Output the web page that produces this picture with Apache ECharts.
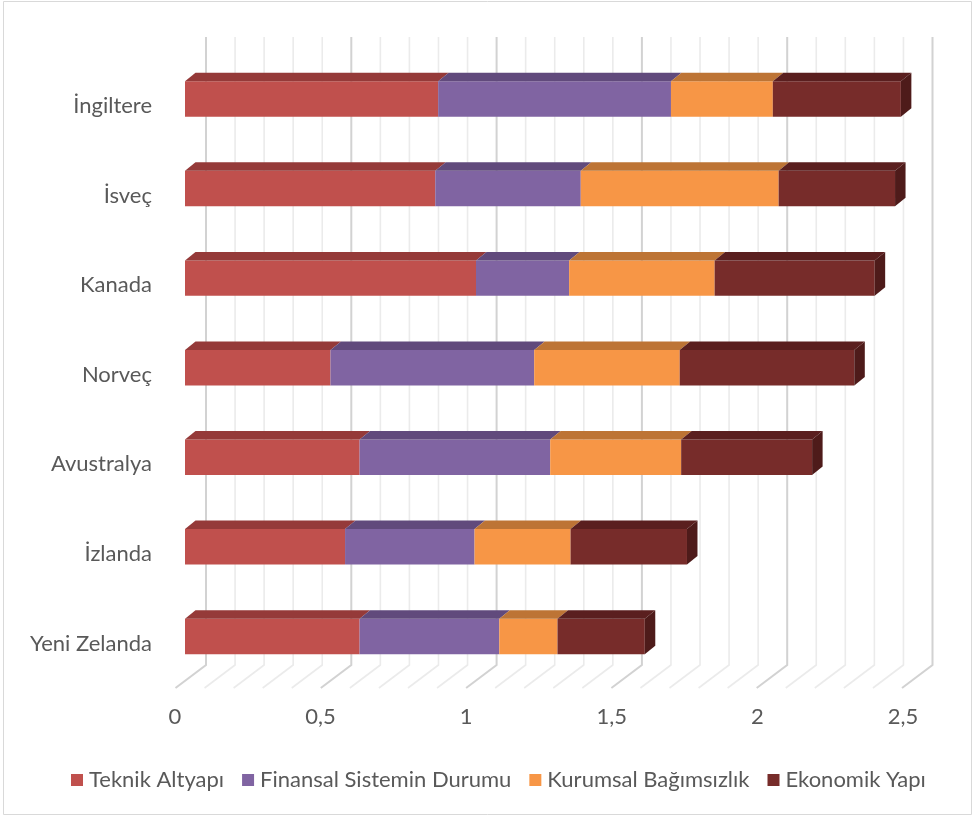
<!DOCTYPE html>
<html>
<head>
<meta charset="utf-8">
<script src="https://cdn.jsdelivr.net/npm/echarts@6/dist/echarts.min.js"></script>
<style>html,body{margin:0;padding:0;background:#fff}#c{width:974px;height:818px}</style>
</head>
<body>
<div id="c"></div>
<script>
// ---- data ----
const categories = ['Yeni Zelanda', 'İzlanda', 'Avustralya', 'Norveç', 'Kanada', 'İsveç', 'İngiltere'];
const seriesNames = ['Teknik Altyapı', 'Finansal Sistemin Durumu', 'Kurumsal Bağımsızlık', 'Ekonomik Yapı'];
const teknikAltyapi     = [0.60, 0.55, 0.60, 0.50, 1.00, 0.86, 0.87];
const finansalSistem    = [0.48, 0.445, 0.655, 0.70, 0.32, 0.50, 0.80];
const kurumsalBagimsiz  = [0.20, 0.33, 0.45, 0.50, 0.50, 0.68, 0.35];
const ekonomikYapi      = [0.30, 0.40, 0.45, 0.60, 0.55, 0.40, 0.44];
const gridTicks = [0,0.1,0.2,0.3,0.4,0.5,0.6,0.7,0.8,0.9,1,1.1,1.2,1.3,1.4,1.5,1.6,1.7,1.8,1.9,2,2.1,2.2,2.3,2.4,2.5];
const axisLabels = [0, 0.5, 1, 1.5, 2, 2.5];

// ---- styles ----
const frontColors = ['#C0504D', '#8064A2', '#F79646', '#772C2A'];
const topColors   = ['#953A39', '#614A7C', '#BD7435', '#5A1F1F'];
const sideColor   = '#4E1B1A';
const DX = 10.5, DY = 8.5;
const FONT = 'Lato';
const FS = 22;

const allSeries = [teknikAltyapi, finansalSistem, kurumsalBagimsiz, ekonomikYapi];

const chart = echarts.init(document.getElementById('c'), null, {renderer: 'canvas'});

// wall + floor grid lines
const wallSeries = {
  type: 'custom',
  xAxisIndex: 0, yAxisIndex: 0,
  z: 1, silent: true,
  data: gridTicks.map(v => [v]),
  encode: {x: 0},
  renderItem: function (params, api) {
    const v = api.value(0);
    const top = api.coord([v, 1]);
    const bot = api.coord([v, 0]);
    const major = params.dataIndex % 5 === 0;
    return {
      type: 'polyline',
      shape: {points: [[top[0], top[1]], [bot[0], bot[1]], [bot[0] - 30.5, bot[1] + 23]]},
      style: {fill: null, stroke: major ? '#d2d2d2' : '#ebebeb', lineWidth: major ? 2 : 1.6}
    };
  }
};

const barSeries = allSeries.map((vals, s) => {
  const data = vals.map((v, i) => {
    let start = 0;
    for (let k = 0; k < s; k++) start += allSeries[k][i];
    return [start, start + v, i];
  });
  const isLast = s === allSeries.length - 1;
  return {
    type: 'custom',
    name: seriesNames[s],
    xAxisIndex: 1, yAxisIndex: 1,
    z: 2 + s,
    itemStyle: {color: frontColors[s]},
    encode: {x: [0, 1], y: 2},
    data: data,
    renderItem: function (params, api) {
      const a = api.coord([api.value(0), api.value(2)]);
      const b = api.coord([api.value(1), api.value(2)]);
      const h = api.size([0, 1])[1] * 0.396;
      const y0 = a[1] - h / 2, y1 = a[1] + h / 2;
      const children = [
        {type: 'rect', shape: {x: a[0], y: y0, width: b[0] - a[0], height: h},
         style: {fill: frontColors[s]}},
        {type: 'polygon', shape: {points: [[a[0], y0], [b[0], y0], [b[0] + DX, y0 - DY], [a[0] + DX, y0 - DY]]},
         style: {fill: topColors[s]}}
      ];
      if (isLast) {
        children.push({type: 'polygon', shape: {points: [[b[0], y0], [b[0] + DX, y0 - DY], [b[0] + DX, y1 - DY], [b[0], y1]]},
          style: {fill: sideColor}});
      }
      return {type: 'group', children: children};
    }
  };
});

const option = {
  backgroundColor: '#fff',
  animation: false,
  textStyle: {fontFamily: FONT},
  graphic: [{
    type: 'rect', silent: true, z: 0,
    shape: {x: 3.5, y: 1.5, width: 968, height: 813},
    style: {fill: null, stroke: '#d9d9d9', lineWidth: 1}
  }],
  grid: [
    {left: 206, right: 41.5, top: 37, height: 628},
    {left: 185, right: 61.5, top: 54.2, height: 627},
    {left: 175, right: 71, top: 61.2, height: 627}
  ],
  xAxis: [
    {gridIndex: 0, type: 'value', min: 0, max: 2.5, show: false},
    {gridIndex: 1, type: 'value', min: 0, max: 2.5, show: false},
    {gridIndex: 2, type: 'value', min: 0, max: 2.5, interval: 0.5,
     axisLine: {show: false}, axisTick: {show: false}, splitLine: {show: false},
     axisLabel: {margin: 18, fontSize: FS, color: '#595959', fontFamily: FONT,
       formatter: v => axisLabels.indexOf(v) >= 0 ? String(v).replace('.', ',') : ''}}
  ],
  yAxis: [
    {gridIndex: 0, type: 'value', min: 0, max: 1, show: false},
    {gridIndex: 1, type: 'category', data: categories, show: false},
    {gridIndex: 2, type: 'category', data: categories,
     axisLine: {show: false}, axisTick: {show: false}, splitLine: {show: false},
     axisLabel: {margin: 23, fontSize: FS, color: '#595959', fontFamily: FONT}}
  ],
  legend: {
    data: seriesNames,
    left: 66, top: 764,
    icon: 'rect', itemWidth: 12, itemHeight: 12, itemGap: 18,
    textStyle: {fontSize: FS, color: '#595959', fontFamily: FONT, padding: [0, 0, 0, 1]}
  },
  series: [wallSeries].concat(barSeries)
};
chart.setOption(option);
</script>
</body>
</html>
